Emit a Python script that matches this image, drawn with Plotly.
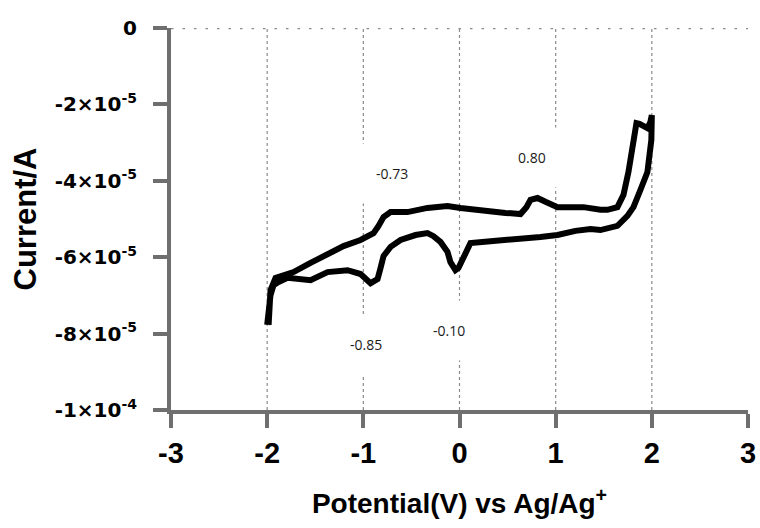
import plotly.graph_objects as go

# ---- data (potential in V, current in units of 1e-5 A) ----
fwd_potential = [-1.985, -1.965, -1.913, -1.809, -1.726, -1.549, -1.372, -1.206, -1.029,
                 -0.894, -0.842, -0.790, -0.717, -0.541, -0.333, -0.125, 0.010, 0.166,
                 0.322, 0.478, 0.634, 0.696, 0.738, 0.811, 0.894, 1.019, 1.154, 1.289,
                 1.466, 1.538, 1.642, 1.705, 1.757, 1.809, 1.840, 1.871, 1.913, 1.954,
                 1.985, 2.000]
fwd_current = [-7.77, -6.86, -6.54, -6.44, -6.39, -6.15, -5.92, -5.71, -5.55,
               -5.37, -5.18, -4.95, -4.82, -4.82, -4.71, -4.66, -4.71, -4.76,
               -4.82, -4.84, -4.87, -4.69, -4.50, -4.45, -4.55, -4.69, -4.69, -4.69,
               -4.76, -4.76, -4.69, -4.37, -3.77, -2.80, -2.49, -2.51, -2.59, -2.62,
               -2.46, -2.28]

rev_potential = [1.995, 1.985, 1.954, 1.881, 1.809, 1.746, 1.642, 1.466, 1.362, 1.206,
                 1.019, 0.842, 0.665, 0.478, 0.322, 0.114, 0.031, -0.010, -0.042,
                 -0.094, -0.125, -0.198, -0.270, -0.333, -0.457, -0.613, -0.717, -0.790,
                 -0.821, -0.852, -0.925, -1.029, -1.164, -1.372, -1.549, -1.653, -1.788,
                 -1.881, -1.934, -1.965, -1.985, -2.000]
rev_current = [-2.93, -3.25, -3.77, -4.24, -4.69, -4.92, -5.18, -5.29, -5.26, -5.31,
               -5.42, -5.47, -5.52, -5.55, -5.58, -5.63, -6.02, -6.28, -6.34,
               -6.13, -5.86, -5.60, -5.45, -5.37, -5.42, -5.55, -5.73, -5.97,
               -6.28, -6.57, -6.68, -6.44, -6.34, -6.39, -6.60, -6.57, -6.54,
               -6.65, -6.73, -6.99, -7.38, -7.77]

scale = 1e-5

peak_labels = ["-0.73", "0.80", "-0.85", "-0.10"]
peak_label_x = [-0.70, 0.75, -0.97, -0.11]
peak_label_y = [-3.80, -3.40, -8.28, -7.93]

x_tick_vals = [-3, -2, -1, 0, 1, 2, 3]
x_tick_text = ["-3", "-2", "-1", "0", "1", "2", "3"]
y_tick_vals = [0, -2, -4, -6, -8, -10]
y_tick_text = ["0", "-2×10<sup>-5</sup>", "-4×10<sup>-5</sup>", "-6×10<sup>-5</sup>",
               "-8×10<sup>-5</sup>", "-1×10<sup>-4</sup>"]
grid_x = [-2, -1, 0, 1, 2]

axis_grey = "#6f6f6f"
dot_grey = "#8a8a8a"

xs = fwd_potential + rev_potential
ys = [v * scale for v in fwd_current + rev_current]

fig = go.Figure()
fig.add_trace(go.Scatter(x=xs, y=ys, mode="lines",
                         line=dict(color="black", width=6), showlegend=False,
                         hoverinfo="skip"))

shapes = []
for gx in grid_x:
    shapes.append(dict(type="line", xref="x", yref="paper", x0=gx, x1=gx, y0=0, y1=1,
                       line=dict(color=dot_grey, width=1.2, dash="dot"), layer="below"))
shapes.append(dict(type="line", xref="paper", yref="y", x0=0, x1=1, y0=0, y1=0,
                   line=dict(color=dot_grey, width=2.5, dash="2.5px,9px"), layer="below"))

annotations = []
for t, ax_, ay_ in zip(peak_labels, peak_label_x, peak_label_y):
    annotations.append(dict(x=ax_, y=ay_ * scale, xref="x", yref="y", text=t,
                            showarrow=False, bgcolor="white", borderpad=20,
                            font=dict(family="Open Sans", size=14, color="#1a1a1a")))

fig.update_layout(
    width=760, height=528,
    margin=dict(l=171, r=12, t=28, b=118),
    paper_bgcolor="white", plot_bgcolor="white",
    shapes=shapes, annotations=annotations,
    xaxis=dict(range=[-3, 3], tickvals=x_tick_vals, ticktext=x_tick_text,
               showgrid=False, zeroline=False, automargin=False,
               showline=True, linecolor=axis_grey, linewidth=4,
               ticks="outside", ticklen=14, tickwidth=4, tickcolor=axis_grey,
               ticklabelstandoff=0,
               tickfont=dict(family="Liberation Sans", size=29, color="black", weight="bold"),
               title=dict(text="Potential(V) vs Ag/Ag<sup>+</sup>", standoff=27,
                          font=dict(family="Liberation Sans", size=28, color="black",
                                    weight="bold"))),
    yaxis=dict(range=[-10 * scale, 0], tickvals=[v * scale for v in y_tick_vals],
               ticktext=y_tick_text, showgrid=False, zeroline=False, automargin=False,
               showline=True, linecolor=axis_grey, linewidth=4,
               ticks="outside", ticklen=14, tickwidth=4, tickcolor=axis_grey,
               ticklabelstandoff=12,
               tickfont=dict(family="DejaVu Sans", size=20, color="black", weight="bold"),
               title=dict(text="Current/A", standoff=10,
                          font=dict(family="Liberation Sans", size=31, color="black",
                                    weight="bold"))),
)

fig.write_html("out.html",
               config={"displayModeBar": False},
               post_script="document.body.style.margin='0px';"
                           "document.body.style.overflow='hidden';")
